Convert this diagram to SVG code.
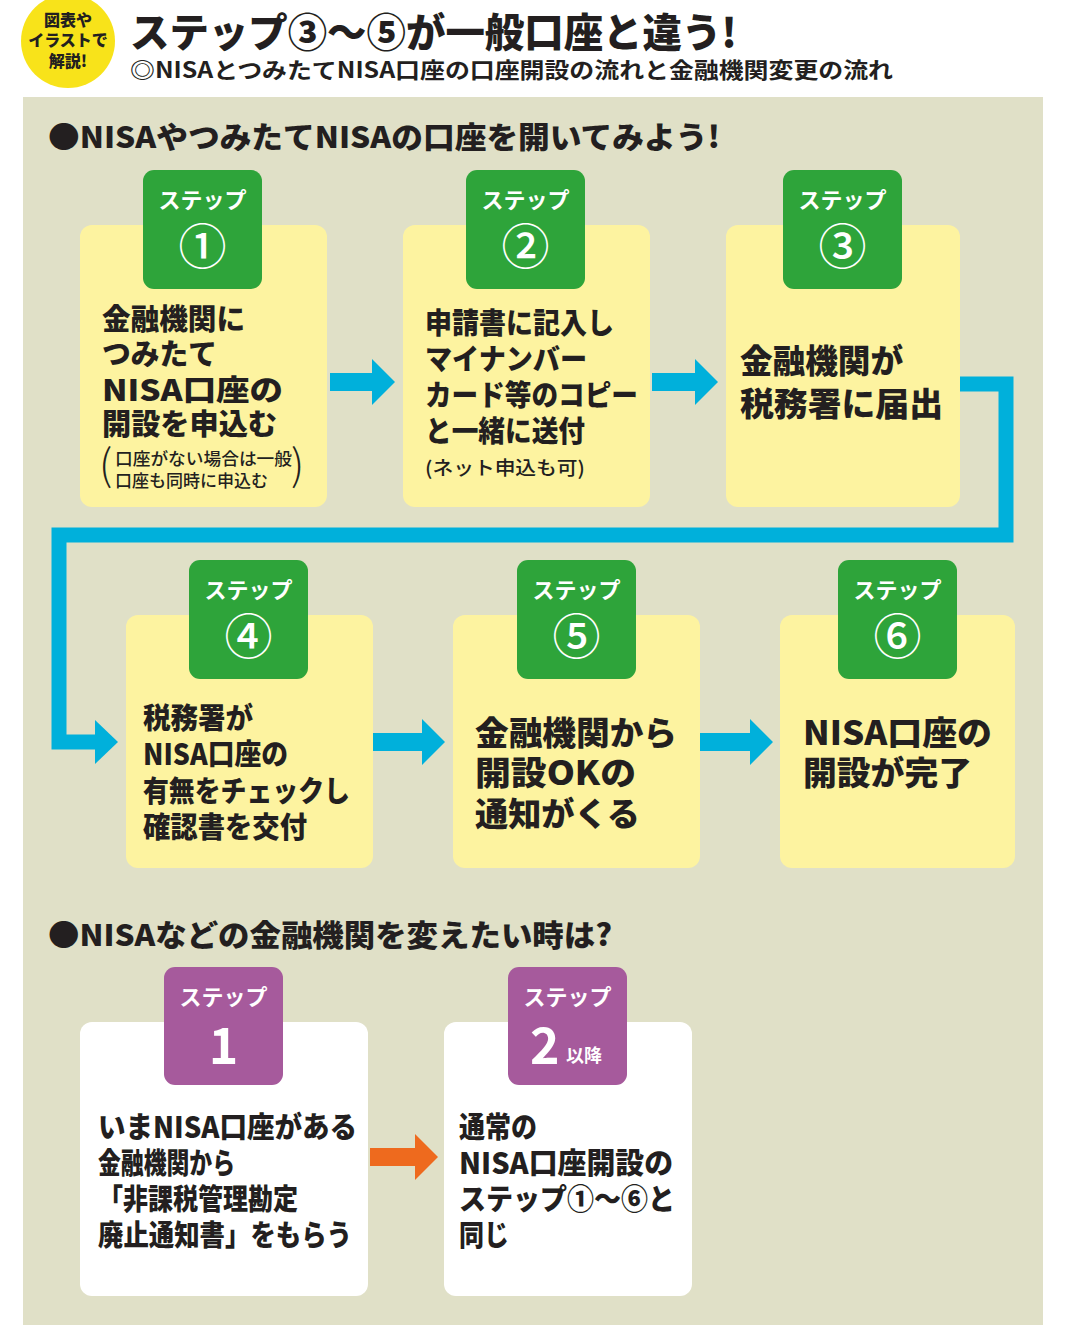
<svg xmlns="http://www.w3.org/2000/svg" width="1080" height="1329" viewBox="0 0 1080 1329">
<style>
text{font-family:"Noto Sans CJK JP","Noto Sans CJK SC",sans-serif;fill:#231f20}
.b{font-weight:900}
.box{fill:#fdf3a0}
.wbox{fill:#ffffff}
.gb{fill:#2ea43a}
.pb{fill:#a65a9c}
.st{fill:#ffffff;font-weight:700;font-size:22px;text-anchor:middle}
.num{fill:#ffffff;font-weight:500;font-size:48px;text-anchor:middle}
.m{font-weight:900;font-size:29px}
.l{font-weight:900;font-size:33px}
.s{font-weight:500;font-size:17px}
.h{font-weight:900;font-size:30px}
.cy{fill:#00b0db}
.w{fill:#ffffff}
</style>
<rect x="0" y="0" width="1080" height="1329" fill="#ffffff"/>
<rect x="23" y="97" width="1020" height="1228" fill="#e0e0c7"/>

<g id="header">
<circle cx="68" cy="41" r="47" fill="#f8e31a"/>
<text x="68" y="26" class="b" font-size="16" text-anchor="middle">図表や</text>
<text x="68" y="46" class="b" font-size="16" text-anchor="middle">イラストで</text>
<text x="68" y="67" class="b" font-size="16" text-anchor="middle">解説!</text>
<text x="130" y="47" class="b" font-size="40" textLength="607" lengthAdjust="spacingAndGlyphs">ステップ③〜⑤が一般口座と違う!</text>
<text x="130" y="78" font-weight="700" font-size="22" textLength="763" lengthAdjust="spacingAndGlyphs">◎NISAとつみたてNISA口座の口座開設の流れと金融機関変更の流れ</text>
</g>

<text x="48" y="148" class="h" textLength="672" lengthAdjust="spacingAndGlyphs">●NISAやつみたてNISAの口座を開いてみよう!</text>
<text x="48" y="946" class="h" textLength="564" lengthAdjust="spacingAndGlyphs">●NISAなどの金融機関を変えたい時は?</text>

<g id="connectors">
<path class="cy" d="M330,373 H372 V359 L395,382 L372,405 V391 H330 Z"/>
<path class="cy" d="M652,373 H695 V359 L718,382 L695,405 V391 H652 Z"/>
<path d="M960,384 H1006 V535 H59 V742 H100" fill="none" stroke="#00b0db" stroke-width="15"/>
<path class="cy" d="M95,720 L118,742 L95,764 Z"/>
<path class="cy" d="M373,733 H422 V719 L445,742 L422,765 V751 H373 Z"/>
<path class="cy" d="M700,733 H750 V719 L773,742 L750,765 V751 H700 Z"/>
<path fill="#ee6a1e" d="M370,1148 H415 V1134 L438,1157 L415,1180 V1166 H370 Z"/>
</g>

<g id="step1">
<rect class="box" x="80" y="225" width="247" height="282" rx="12"/>
<rect class="gb" x="143" y="170" width="119" height="119" rx="11"/>
<text x="202.5" y="208" class="st">ステップ</text>
<text x="202.5" y="264" class="num">①</text>
<text x="102" y="330" class="m" textLength="143" lengthAdjust="spacingAndGlyphs">金融機関に</text>
<text x="102" y="365" class="m" textLength="115" lengthAdjust="spacingAndGlyphs">つみたて</text>
<text x="102" y="401" class="m" textLength="181" lengthAdjust="spacingAndGlyphs">NISA口座の</text>
<text x="102" y="435" class="m" textLength="175" lengthAdjust="spacingAndGlyphs">開設を申込む</text>
<text x="99" y="480" font-weight="300" font-size="42">(</text>
<text x="115" y="465" class="s" textLength="177" lengthAdjust="spacingAndGlyphs">口座がない場合は一般</text>
<text x="115" y="487" class="s">口座も同時に申込む</text>
<text x="291" y="480" font-weight="300" font-size="42">)</text>
</g>

<g id="step2">
<rect class="box" x="403" y="225" width="247" height="282" rx="12"/>
<rect class="gb" x="466" y="170" width="119" height="119" rx="11"/>
<text x="525.5" y="208" class="st">ステップ</text>
<text x="525.5" y="264" class="num">②</text>
<text x="425" y="334" class="m" textLength="189" lengthAdjust="spacingAndGlyphs">申請書に記入し</text>
<text x="425" y="370" class="m" textLength="162" lengthAdjust="spacingAndGlyphs">マイナンバー</text>
<text x="425" y="406" class="m" textLength="213" lengthAdjust="spacingAndGlyphs">カード等のコピー</text>
<text x="425" y="442" class="m" textLength="160" lengthAdjust="spacingAndGlyphs">と一緒に送付</text>
<text x="425" y="475" font-weight="500" font-size="19" textLength="160" lengthAdjust="spacingAndGlyphs">(ネット申込も可)</text>
</g>

<g id="step3">
<rect class="box" x="726" y="225" width="234" height="282" rx="12"/>
<rect class="gb" x="783" y="170" width="119" height="119" rx="11"/>
<text x="842.5" y="208" class="st">ステップ</text>
<text x="842.5" y="264" class="num">③</text>
<text x="740" y="373" class="l" textLength="163" lengthAdjust="spacingAndGlyphs">金融機関が</text>
<text x="740" y="416" class="l" textLength="203" lengthAdjust="spacingAndGlyphs">税務署に届出</text>
</g>

<g id="step4">
<rect class="box" x="126" y="615" width="247" height="253" rx="12"/>
<rect class="gb" x="189" y="560" width="119" height="119" rx="11"/>
<text x="248.5" y="598" class="st">ステップ</text>
<text x="248.5" y="654" class="num">④</text>
<text x="143" y="729" class="m" textLength="110" lengthAdjust="spacingAndGlyphs">税務署が</text>
<text x="143" y="765" class="m" textLength="145" lengthAdjust="spacingAndGlyphs">NISA口座の</text>
<text x="143" y="802" class="m" textLength="207" lengthAdjust="spacingAndGlyphs">有無をチェックし</text>
<text x="143" y="838" class="m" textLength="164" lengthAdjust="spacingAndGlyphs">確認書を交付</text>
</g>

<g id="step5">
<rect class="box" x="453" y="615" width="247" height="253" rx="12"/>
<rect class="gb" x="517" y="560" width="119" height="119" rx="11"/>
<text x="576.5" y="598" class="st">ステップ</text>
<text x="576.5" y="654" class="num">⑤</text>
<text x="475" y="745" class="l" textLength="202" lengthAdjust="spacingAndGlyphs">金融機関から</text>
<text x="475" y="785" class="l" textLength="161" lengthAdjust="spacingAndGlyphs">開設OKの</text>
<text x="475" y="826" class="l" textLength="165" lengthAdjust="spacingAndGlyphs">通知がくる</text>
</g>

<g id="step6">
<rect class="box" x="780" y="615" width="235" height="253" rx="12"/>
<rect class="gb" x="838" y="560" width="119" height="119" rx="11"/>
<text x="897.5" y="598" class="st">ステップ</text>
<text x="897.5" y="654" class="num">⑥</text>
<text x="803" y="745" class="l" textLength="189" lengthAdjust="spacingAndGlyphs">NISA口座の</text>
<text x="803" y="785" class="l" textLength="169" lengthAdjust="spacingAndGlyphs">開設が完了</text>
</g>

<g id="change1">
<rect class="wbox" x="80" y="1022" width="288" height="274" rx="12"/>
<rect class="pb" x="164" y="967" width="119" height="118" rx="11"/>
<text x="223.5" y="1005" class="st">ステップ</text>
<text x="223.5" y="1064" class="w" font-weight="700" font-size="50" text-anchor="middle">1</text>
<text x="98" y="1138" class="m" font-size="28" textLength="259" lengthAdjust="spacingAndGlyphs">いまNISA口座がある</text>
<text x="98" y="1174" class="m" font-size="28" textLength="137" lengthAdjust="spacingAndGlyphs">金融機関から</text>
<text x="98" y="1210" class="m" font-size="28" textLength="200" lengthAdjust="spacingAndGlyphs">「非課税管理勘定</text>
<text x="98" y="1246" class="m" font-size="28" textLength="254" lengthAdjust="spacingAndGlyphs">廃止通知書」をもらう</text>
</g>

<g id="change2">
<rect class="wbox" x="444" y="1022" width="248" height="274" rx="12"/>
<rect class="pb" x="508" y="967" width="119" height="118" rx="11"/>
<text x="567.5" y="1005" class="st">ステップ</text>
<text x="530" y="1064" class="w" font-weight="700" font-size="50">2</text>
<text x="566" y="1062" class="w" font-weight="700" font-size="18">以降</text>
<text x="459" y="1138" class="m" font-size="28" textLength="78" lengthAdjust="spacingAndGlyphs">通常の</text>
<text x="459" y="1174" class="m" font-size="28" textLength="214" lengthAdjust="spacingAndGlyphs">NISA口座開設の</text>
<text x="459" y="1210" class="m" font-size="28" textLength="216" lengthAdjust="spacingAndGlyphs">ステップ①〜⑥と</text>
<text x="459" y="1246" class="m" font-size="28" textLength="50" lengthAdjust="spacingAndGlyphs">同じ</text>
</g>
</svg>
